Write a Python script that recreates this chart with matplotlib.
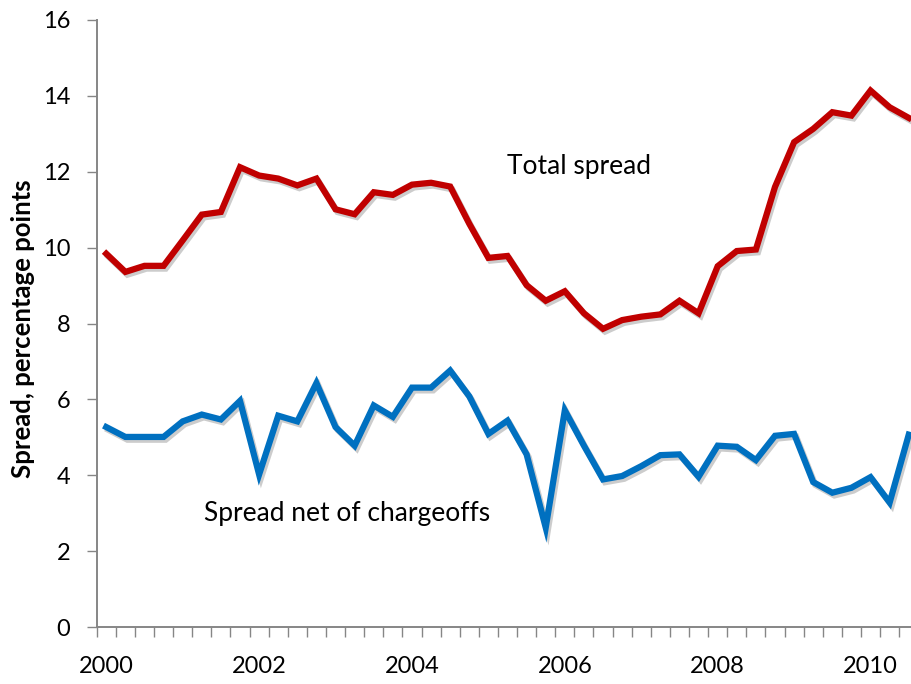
import matplotlib
matplotlib.use("Agg")
import matplotlib.pyplot as plt
import matplotlib.patheffects as pe
import numpy as np

# Quarterly data, 2000Q1 - 2010Q3
total_spread = [
    9.84, 9.36, 9.52, 9.52, 10.19, 10.87, 10.94, 12.12,
    11.90, 11.82, 11.64, 11.82, 11.01, 10.88, 11.46, 11.39,
    11.66, 11.71, 11.61, 10.63, 9.73, 9.78, 9.01, 8.60,
    8.85, 8.27, 7.86, 8.09, 8.18, 8.24, 8.60, 8.27,
    9.51, 9.91, 9.95, 11.60, 12.78, 13.13, 13.57, 13.48,
    14.14, 13.70, 13.42,
]
net_spread = [
    5.27, 5.01, 5.01, 5.01, 5.42, 5.60, 5.47, 5.96,
    4.02, 5.57, 5.42, 6.43, 5.27, 4.78, 5.84, 5.54,
    6.31, 6.31, 6.76, 6.08, 5.09, 5.44, 4.55, 2.62,
    5.71, 4.78, 3.89, 3.98, 4.24, 4.53, 4.55, 3.96,
    4.78, 4.75, 4.40, 5.04, 5.09, 3.82, 3.54, 3.67,
    3.95, 3.28, 5.07,
]
year_labels = ["2000", "2002", "2004", "2006", "2008", "2010"]

FONT = "Lato"
RED = "#C00000"
BLUE = "#0070C0"
AXIS_GRAY = "#868686"

plt.rcParams["font.family"] = [FONT, "DejaVu Sans"]

fig = plt.figure(figsize=(9.12, 6.84), dpi=100)
ax = fig.add_axes([96.7 / 912, 57 / 684, 1 - 96.7 / 912, 607 / 684])

x = np.arange(len(total_spread))
shadow = [pe.SimpleLineShadow(offset=(1.5, -2), shadow_color="black", alpha=0.2),
          pe.Normal()]
ax.plot(x, total_spread, color=RED, lw=4.5, solid_joinstyle="miter",
        path_effects=shadow)
ax.plot(x, net_spread, color=BLUE, lw=4.5, solid_joinstyle="miter",
        path_effects=shadow)

ax.set_xlim(-0.5, 42.17)
ax.set_ylim(0, 16)

# labels every 8 quarters, tick marks between quarters
ax.set_xticks(np.arange(0, len(total_spread), 8))
ax.set_xticklabels(year_labels)
ax.set_xticks(np.arange(-0.5, 42.2, 1), minor=True)
ax.tick_params(axis="x", which="major", length=0, pad=21, labelsize=17)
ax.tick_params(axis="x", which="minor", length=7, width=1, color=AXIS_GRAY,
               direction="out")

ax.set_yticks(np.arange(0, 17, 2))
ax.tick_params(axis="y", length=7, width=1, color=AXIS_GRAY, direction="out",
               pad=12, labelsize=17)

for side in ["top", "right"]:
    ax.spines[side].set_visible(False)
for side in ["left", "bottom"]:
    ax.spines[side].set_color(AXIS_GRAY)
    ax.spines[side].set_linewidth(1.4)

ax.text(24.74, 12.15, "Total spread", fontsize=19, ha="center", va="center")
ax.text(12.59, 2.98, "Spread net of chargeoffs", fontsize=19,
        ha="center", va="center")

fig.text(23 / 912, 1 - 329 / 684, "Spread, percentage points", rotation=90,
         fontsize=18.5, fontweight="bold", ha="center", va="center")

fig.savefig("out.png", dpi=100)
